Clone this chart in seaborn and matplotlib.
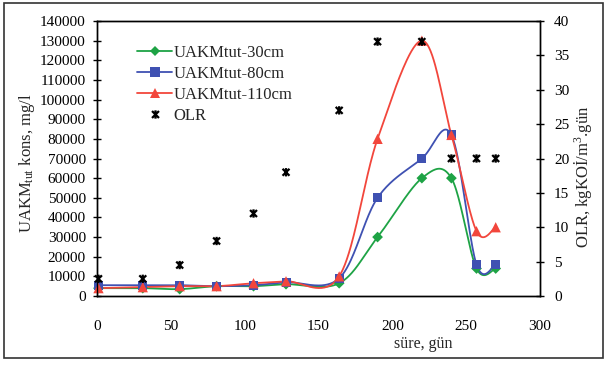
import numpy as np
import pandas as pd
import seaborn as sns
import matplotlib
matplotlib.use("Agg")
import matplotlib.pyplot as plt
from matplotlib.path import Path
from matplotlib.lines import Line2D
from matplotlib.patches import Rectangle

# ---- data ----
days = [1, 31, 56, 81, 106, 128, 164, 190, 220, 240, 257, 270]
uakm_30 = [4000, 4000, 3500, 5000, 5000, 6000, 6500, 30000, 60000, 60000, 14000, 14000]
uakm_80 = [5500, 5500, 5500, 5000, 5500, 7000, 9000, 50000, 70000, 82000, 16000, 16000]
uakm_110 = [4000, 4500, 5000, 5000, 6500, 7500, 10000, 80000, 130000, 82000, 33000, 35000]
olr = [2.5, 2.5, 4.5, 8, 12, 18, 27, 37, 37, 20, 20, 20]

series_names = ["UAKMtut-30cm", "UAKMtut-80cm", "UAKMtut-110cm"]
colors = ["#1ea345", "#3f51b2", "#f2463c"]
markers = ["D", "s", "^"]
msizes = [30, 42, 55]

sns.set_style("white")
plt.rcParams["font.family"] = ["Liberation Serif", "DejaVu Serif"]
plt.rcParams["mathtext.fontset"] = "custom"
plt.rcParams["mathtext.rm"] = "Liberation Serif"
plt.rcParams["mathtext.it"] = "Liberation Serif:italic"

W, H = 607, 366
fig = plt.figure(figsize=(W / 100, H / 100), dpi=100)
L, R, T, B = 97, 540, 21, 296
ax = fig.add_axes([L / W, 1 - B / H, (R - L) / W, (B - T) / H])
ax2 = ax.twinx()

XMAX, YMAX, Y2MAX = 300, 140000, 40
sx = (R - L) / XMAX
sy = (B - T) / YMAX


def smooth(x, y, n=40):
    """Excel-style smoothed line (Catmull-Rom Bezier in screen space)."""
    px = np.asarray(x, float) * sx
    py = np.asarray(y, float) * sy
    P = np.column_stack([px, py])
    P = np.vstack([P[0], P, P[-1]])
    out = []
    t = np.linspace(0, 1, n)[:, None]
    for i in range(1, len(P) - 2):
        p0, p1, p2, p3 = P[i - 1], P[i], P[i + 1], P[i + 2]
        c1 = p1 + (p2 - p0) / 6
        c2 = p2 - (p3 - p1) / 6
        seg = ((1 - t) ** 3) * p1 + 3 * ((1 - t) ** 2) * t * c1 + 3 * (1 - t) * t ** 2 * c2 + t ** 3 * p2
        out.append(seg if i == 1 else seg[1:])
    out = np.vstack(out)
    return out[:, 0] / sx, out[:, 1] / sy


handles = []
for name, vals, c, m, s in zip(series_names, [uakm_30, uakm_80, uakm_110], colors, markers, msizes):
    xs, ys = smooth(days, vals)
    sdf = pd.DataFrame({"x": xs, "y": ys})
    sns.lineplot(data=sdf, x="x", y="y", sort=False, estimator=None, color=c, lw=1.3, ax=ax)
    df = pd.DataFrame({"x": days, "y": vals})
    sns.scatterplot(data=df, x="x", y="y", marker=m, s=s, color=c, edgecolor="none", ax=ax,
                    zorder=5, clip_on=False)
    handles.append(Line2D([], [], color=c, lw=1.3, marker=m, markersize=np.sqrt(s), markeredgewidth=0, label=name))

# star marker: x plus vertical line
star = Path([(-1, -1), (1, 1), (-1, 1), (1, -1), (0, -1.2), (0, 1.2)],
            [Path.MOVETO, Path.LINETO, Path.MOVETO, Path.LINETO, Path.MOVETO, Path.LINETO])
odf = pd.DataFrame({"x": days, "y": olr})
sns.scatterplot(data=odf, x="x", y="y", marker=star, s=36, facecolor="none", edgecolor="black",
                linewidth=1.6, ax=ax2, zorder=6, clip_on=False)
handles.append(Line2D([], [], color="black", lw=0, marker=star, markersize=6, markeredgewidth=1.6,
                      markeredgecolor="black", label="OLR"))

ax.set_xlim(0, XMAX)
ax.set_ylim(0, YMAX)
ax2.set_ylim(0, Y2MAX)
ax.set_xticks(np.arange(0, 301, 50))
ax.set_yticks(np.arange(0, 140001, 10000))
ax2.set_yticks(np.arange(0, 41, 5))

for a in (ax, ax2):
    for sp in a.spines.values():
        sp.set_color("black")
        sp.set_linewidth(1.0)
ax.tick_params(axis="both", direction="inout", length=6, width=1, labelsize=11, colors="black")
ax.tick_params(axis="x", pad=14)
ax.tick_params(axis="y", pad=5)
ax2.tick_params(axis="y", direction="inout", length=6, width=1, labelsize=11, colors="black", pad=7)

ax.set_xlabel("süre, gün", fontsize=11.5)
ax.xaxis.set_label_coords((423 - L) / (R - L), -(336 - B) / (B - T))
ax.set_ylabel(r"UAKM$_{\mathrm{tut}}$ kons, mg/l", fontsize=12)
ax.yaxis.set_label_coords(-(L - 37) / (R - L), (B - 163) / (B - T))
ax2.set_ylabel(r"OLR, kgKOİ/m$^{3}$.gün", fontsize=12, rotation=90)
ax2.yaxis.set_label_coords((572 - L) / (R - L), (B - 177) / (B - T))

leg = ax.legend(handles=handles, loc="upper left", bbox_to_anchor=(137 / W, 1 - 45 / H),
                bbox_transform=fig.transFigure, frameon=False, fontsize=12,
                handlelength=2.1, handletextpad=0.1, labelspacing=0.3, borderpad=0, borderaxespad=0)

fig.patches.append(Rectangle((4 / W, 1 - 358 / H), 599 / W, 355 / H, transform=fig.transFigure,
                             fill=False, edgecolor="#333333", lw=1.2))

fig.savefig("out.png", dpi=100)
